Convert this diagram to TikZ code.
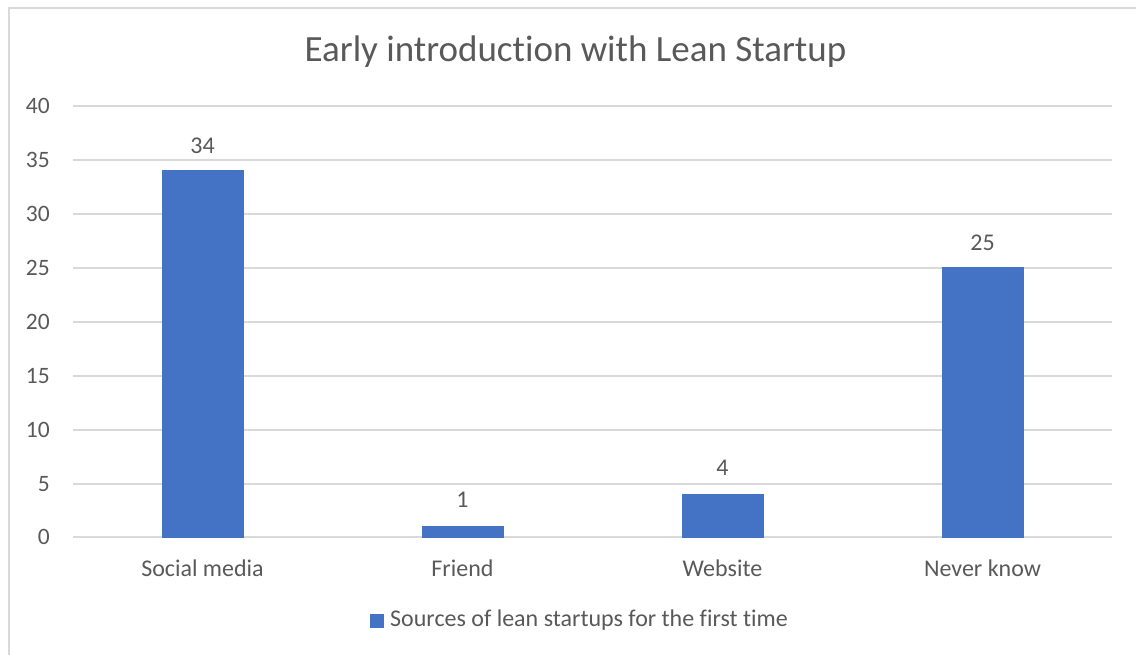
\documentclass[tikz,border=0pt]{standalone}
\usepackage{fontspec}
\setmainfont[Ligatures=NoCommon]{Carlito}
\usepackage{tikz}
\definecolor{barblue}{HTML}{4472C4}
\definecolor{txtgray}{HTML}{595959}
\definecolor{gridgray}{HTML}{D9D9D9}
\tikzset{
  grid line/.style={gridgray,line width=1.3pt},
  tick label/.style={txtgray,font=\fontsize{23.5}{27}\selectfont,anchor=east,inner sep=0pt},
  cat label/.style={txtgray,font=\fontsize{24}{28}\selectfont,inner sep=0pt},
  bar/.style={barblue,fill}
}

\begin{document}
\begin{tikzpicture}[x=1pt,y=-1pt]
\useasboundingbox (0,0) rectangle (1136,655);
\draw[gridgray,line width=2pt] (9,660) -- (9,8) -- (1140,8);
\node[txtgray,font=\fontsize{37}{42}\selectfont] (title) at (575.5,52) {Early introduction with Lean Startup};
% gridlines
\draw[grid line] (73,106) -- (1112,106);
\draw[grid line] (73,160) -- (1112,160);
\draw[grid line] (73,214) -- (1112,214);
\draw[grid line] (73,268) -- (1112,268);
\draw[grid line] (73,322) -- (1112,322);
\draw[grid line] (73,376) -- (1112,376);
\draw[grid line] (73,430) -- (1112,430);
\draw[grid line] (73,484) -- (1112,484);
\draw[grid line] (73,537) -- (1112,537);
\node[tick label] (t40) at (50,106) {40};
\node[tick label] (t35) at (50,160) {35};
\node[tick label] (t30) at (50,214) {30};
\node[tick label] (t25) at (50,268) {25};
\node[tick label] (t20) at (50,322) {20};
\node[tick label] (t15) at (50,376) {15};
\node[tick label] (t10) at (50,430) {10};
\node[tick label] (t5) at (50,484) {5};
\node[tick label] (t0) at (50,537) {0};
% bars
\draw[bar] (162,537) rectangle (243,170.6);
\draw[bar] (422,537) rectangle (503,526.2);
\draw[bar] (682,537) rectangle (763,493.9);
\draw[bar] (942,537) rectangle (1023,267.6);
\node[cat label] (v1) at (202.5,146) {34};
\node[cat label] (v2) at (462.5,500) {1};
\node[cat label] (v3) at (722.5,468) {4};
\node[cat label] (v4) at (982.5,243) {25};
\node[cat label] (c1) at (202.5,568) {Social media};
\node[cat label] (c2) at (462.5,568) {Friend};
\node[cat label] (c3) at (722.5,568) {Website};
\node[cat label] (c4) at (982.5,568) {Never know};
% legend
\draw[bar] (370,614) rectangle (383,627);
\node[cat label,anchor=west] (leg) at (390,620.5) {Sources of lean startups for the first time};
\end{tikzpicture}
\end{document}
